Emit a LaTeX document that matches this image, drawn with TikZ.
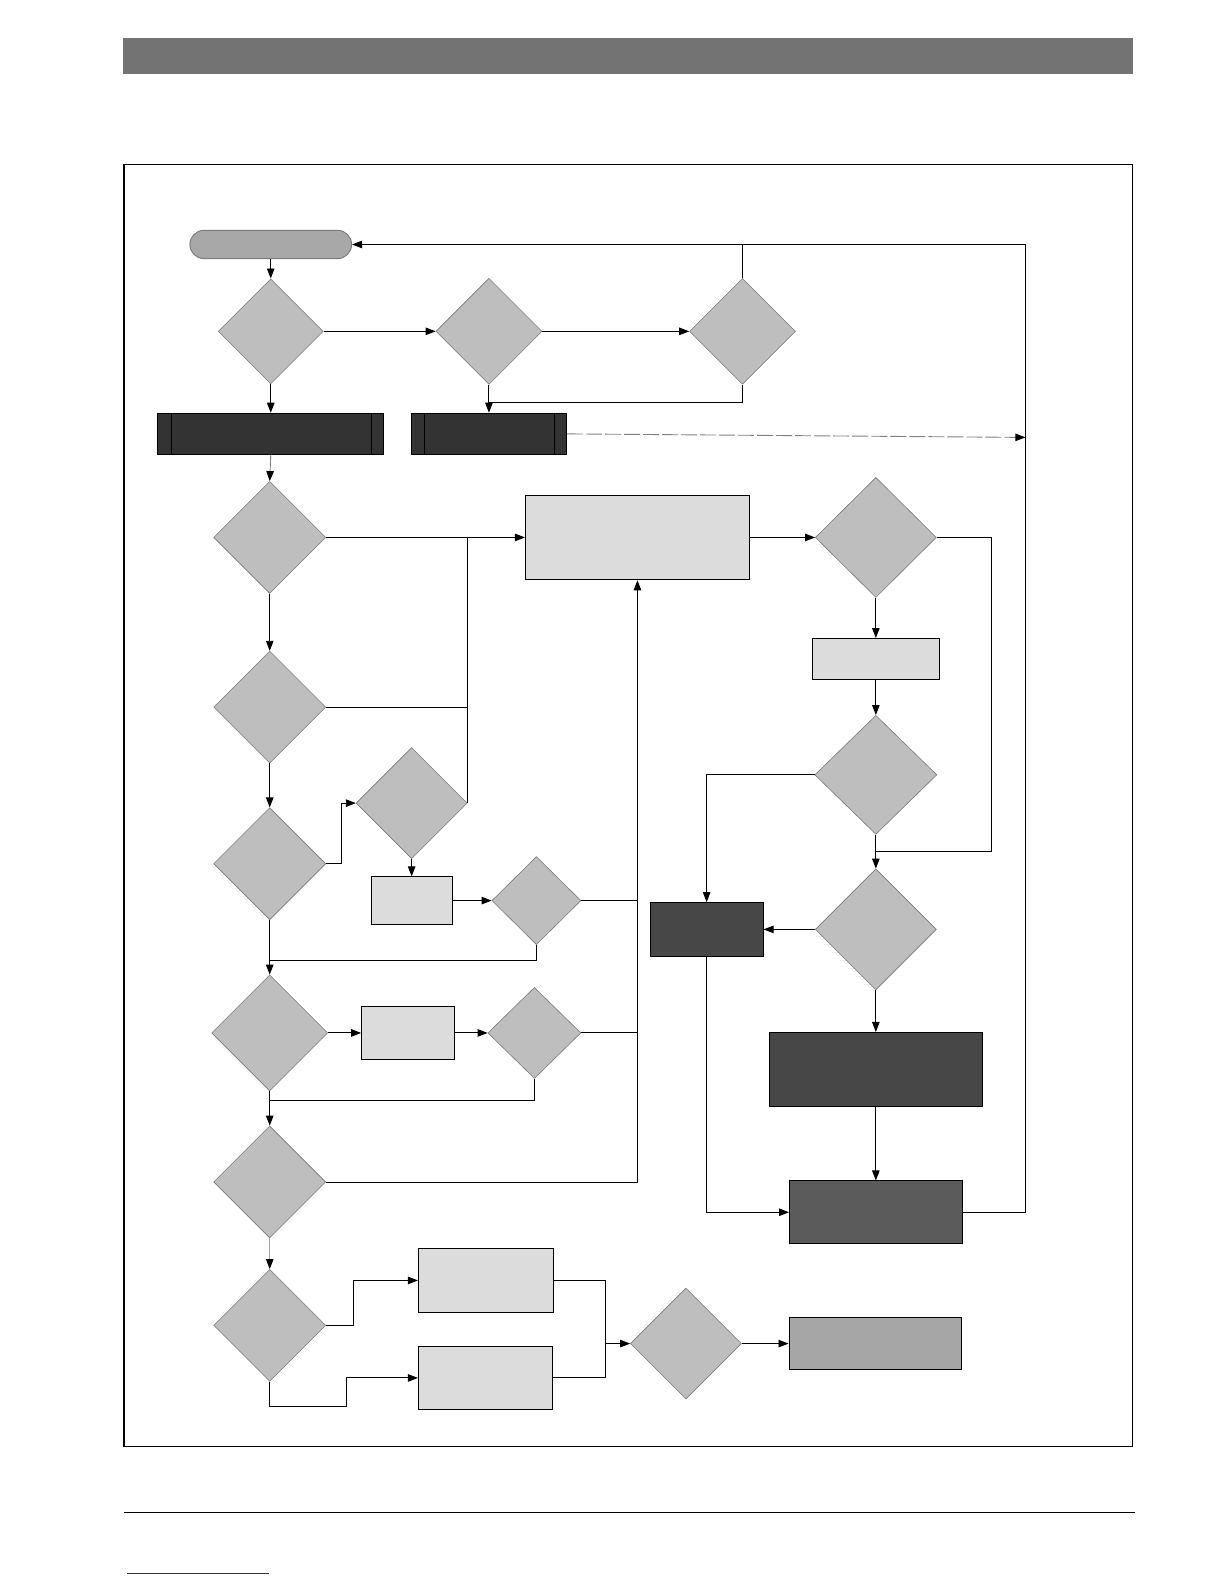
\documentclass[tikz,border=0pt]{standalone}
\usetikzlibrary{shapes.geometric,arrows.meta}
\definecolor{barc}{HTML}{737373}
\definecolor{diaf}{HTML}{BEBEBE}
\definecolor{diab}{HTML}{7A7A7A}
\definecolor{termf}{HTML}{A8A8A8}
\definecolor{darkf}{HTML}{333333}
\definecolor{lightf}{HTML}{DCDCDC}
\definecolor{midf}{HTML}{474747}
\definecolor{rthree}{HTML}{5B5B5B}
\definecolor{psix}{HTML}{A6A6A6}
\definecolor{navyl}{HTML}{1F2A8A}
\begin{document}
\begin{tikzpicture}[x=1.0099pt,y=-1.0099pt,
  dia/.style={diamond,draw=diab,fill=diaf,line width=0.6pt,inner sep=0pt},
  box/.style={rectangle,draw=black,line width=0.9pt,inner sep=0pt},
  conn/.style={line width=0.9pt,-{Triangle[length=10pt,width=7.5pt]}},
  dconn/.style={line width=0.9pt,draw=gray,dash pattern=on 16pt off 3pt,-{Triangle[length=10pt,width=7.5pt,color=black]}},
  gconn/.style={line width=0.9pt,draw=gray!70,-{Triangle[length=10pt,width=7.5pt,color=black]}},
  ln/.style={line width=0.9pt}]
\useasboundingbox (0,0) rectangle (1212,1568);
\fill[white] (0,0) rectangle (1212,1568);
% page decoration
\fill[barc] (122,38) rectangle (1122,73);
\draw[line width=1.6pt] (123,163) rectangle (1121,1432);
\draw[line width=1pt] (123,1497) -- (1124,1497);
\draw[navyl,line width=1pt] (126,1558) -- (266,1558);

% top row
\node[box,fill=termf,draw=diab,rounded corners=14pt,minimum width=161.6pt,minimum height=28.3pt] (term) at (268,242) {};
\node[dia,minimum width=105pt,minimum height=105pt] (d1) at (268,328) {};
\node[dia,minimum width=106pt,minimum height=106pt] (d2) at (484,328) {};
\node[dia,minimum width=106pt,minimum height=106pt] (d3) at (735,328) {};
\node[box,fill=darkf,minimum width=226pt,minimum height=41.4pt] (b1) at (268,429.5) {};
\node[box,fill=darkf,minimum width=155.5pt,minimum height=41.4pt] (b2) at (484,429.5) {};
\draw[ln] ([xshift=14.1pt]b1.north west) -- ([xshift=14.1pt]b1.south west);
\draw[ln] ([xshift=-13.1pt]b1.north east) -- ([xshift=-13.1pt]b1.south east);
\draw[ln] ([xshift=14.1pt]b2.north west) -- ([xshift=14.1pt]b2.south west);
\draw[ln] ([xshift=-13.1pt]b2.north east) -- ([xshift=-13.1pt]b2.south east);

% left column
\node[dia,minimum width=112pt,minimum height=112pt] (d4) at (267,532) {};
\node[box,fill=lightf,minimum width=224pt,minimum height=84.8pt] (p1) at (631,532) {};
\node[dia,minimum width=112pt,minimum height=112pt] (d5) at (267,700) {};
\node[dia,minimum width=112pt,minimum height=112pt] (d6) at (267,855) {};
\node[dia,minimum width=111pt,minimum height=111pt] (d7) at (407.5,795) {};
\node[box,fill=lightf,minimum width=81pt,minimum height=47.5pt] (p2) at (407.5,891.5) {};
\node[dia,minimum width=89pt,minimum height=88pt] (d8) at (531,891.5) {};
\node[dia,minimum width=116pt,minimum height=116pt] (d9) at (267,1022.5) {};
\node[box,fill=lightf,minimum width=93pt,minimum height=53.5pt] (p3) at (404,1022.5) {};
\node[dia,minimum width=93pt,minimum height=91pt] (d10) at (529,1022.5) {};
\node[dia,minimum width=112pt,minimum height=112pt] (d11) at (267,1170) {};
\node[dia,minimum width=112pt,minimum height=112pt] (d12) at (267,1312) {};
\node[box,fill=lightf,minimum width=135pt,minimum height=64pt] (p4) at (481,1267.5) {};
\node[box,fill=lightf,minimum width=134pt,minimum height=62.6pt] (p5) at (480.5,1364) {};
\node[dia,minimum width=111pt,minimum height=111pt] (d13) at (679,1330) {};
\node[box,fill=psix,minimum width=172.7pt,minimum height=51.5pt] (p6) at (866.5,1330) {};

% right column
\node[dia,minimum width=121pt,minimum height=120pt] (d14) at (867,532) {};
\node[box,fill=lightf,minimum width=127pt,minimum height=41.4pt] (p7) at (867,652.5) {};
\node[dia,minimum width=122pt,minimum height=119pt] (d15) at (867,767) {};
\node[dia,minimum width=121pt,minimum height=121pt] (d16) at (867,920) {};
\node[box,fill=midf,minimum width=113pt,minimum height=53.5pt] (r1) at (699.5,920) {};
\node[box,fill=midf,minimum width=213pt,minimum height=73.7pt] (r2) at (867,1058.5) {};
\node[box,fill=rthree,minimum width=172.7pt,minimum height=62.6pt] (r3) at (867,1200) {};

\coordinate (tr) at (1015,242);
\coordinate (ba) at (1015,433);
\coordinate (j1) at (484,398);
\coordinate (j2) at (267,951);
\coordinate (j3) at (267,1089);
\coordinate (j4) at (867,843);
\coordinate (m) at (599,1330);

% connectors: top
\draw[conn] (term.south) -- (d1.north);
\draw[conn] (d1.east) -- (d2.west);
\draw[conn] (d2.east) -- (d3.west);
\draw[conn] (d1.south) -- (b1.north);
\draw[conn] (d2.south) -- (b2.north);
\draw[ln] (d3.south) |- (j1);
\draw[conn] (d3.north) |- (term.east);
\draw[ln] (r3.east) -| (tr) -- (d3.north |- term.east);
\draw[dconn] (b2.east) -- (ba);
\draw[dconn] (b1.south) -- (d4.north);

% connectors: left column
\draw[conn] (d4.east) -- (p1.west);
\draw[ln] (d7.east) -- (d7.east |- d4.east);
\draw[ln] (d5.east) -- (d5.east -| d7.east);
\draw[conn] (d4.south) -- (d5.north);
\draw[conn] (d5.south) -- (d6.north);
\draw[conn] (d6.east) -- ++(15,0) |- (d7.west);
\draw[conn] (d7.south) -- (p2.north);
\draw[conn] (p2.east) -- (d8.west);
\draw[ln] (d8.east) -- (d8.east -| p1.south);
\draw[ln] (d10.east) -- (d10.east -| p1.south);
\draw[conn] (d11.east) -| (p1.south);
\draw[ln] (d8.south) |- (j2);
\draw[conn] (d6.south) -- (d9.north);
\draw[conn] (d9.east) -- (p3.west);
\draw[conn] (p3.east) -- (d10.west);
\draw[ln] (d10.south) |- (j3);
\draw[conn] (d9.south) -- (d11.north);
\draw[gconn] (d11.south) -- (d12.north);
\draw[conn] (d12.east) -- ++(27,0) |- (p4.west);
\draw[conn] (d12.south) -- ++(0,24) -- ++(76,0) |- (p5.west);
\draw[ln] (p4.east) -| (m);
\draw[ln] (p5.east) -| (m);
\draw[conn] (m) -- (d13.west);
\draw[conn] (d13.east) -- (p6.west);

% connectors: right column
\draw[conn] (p1.east) -- (d14.west);
\draw[conn] (d14.south) -- (p7.north);
\draw[conn] (p7.south) -- (d15.north);
\draw[conn] (d15.south) -- (d16.north);
\draw[ln] (d14.east) -- ++(54,0) |- (j4);
\draw[conn] (d15.west) -| (r1.north);
\draw[conn] (d16.west) -- (r1.east);
\draw[conn] (d16.south) -- (r2.north);
\draw[conn] (r2.south) -- (r3.north);
\draw[conn] (r1.south) |- (r3.west);
\end{tikzpicture}
\end{document}
